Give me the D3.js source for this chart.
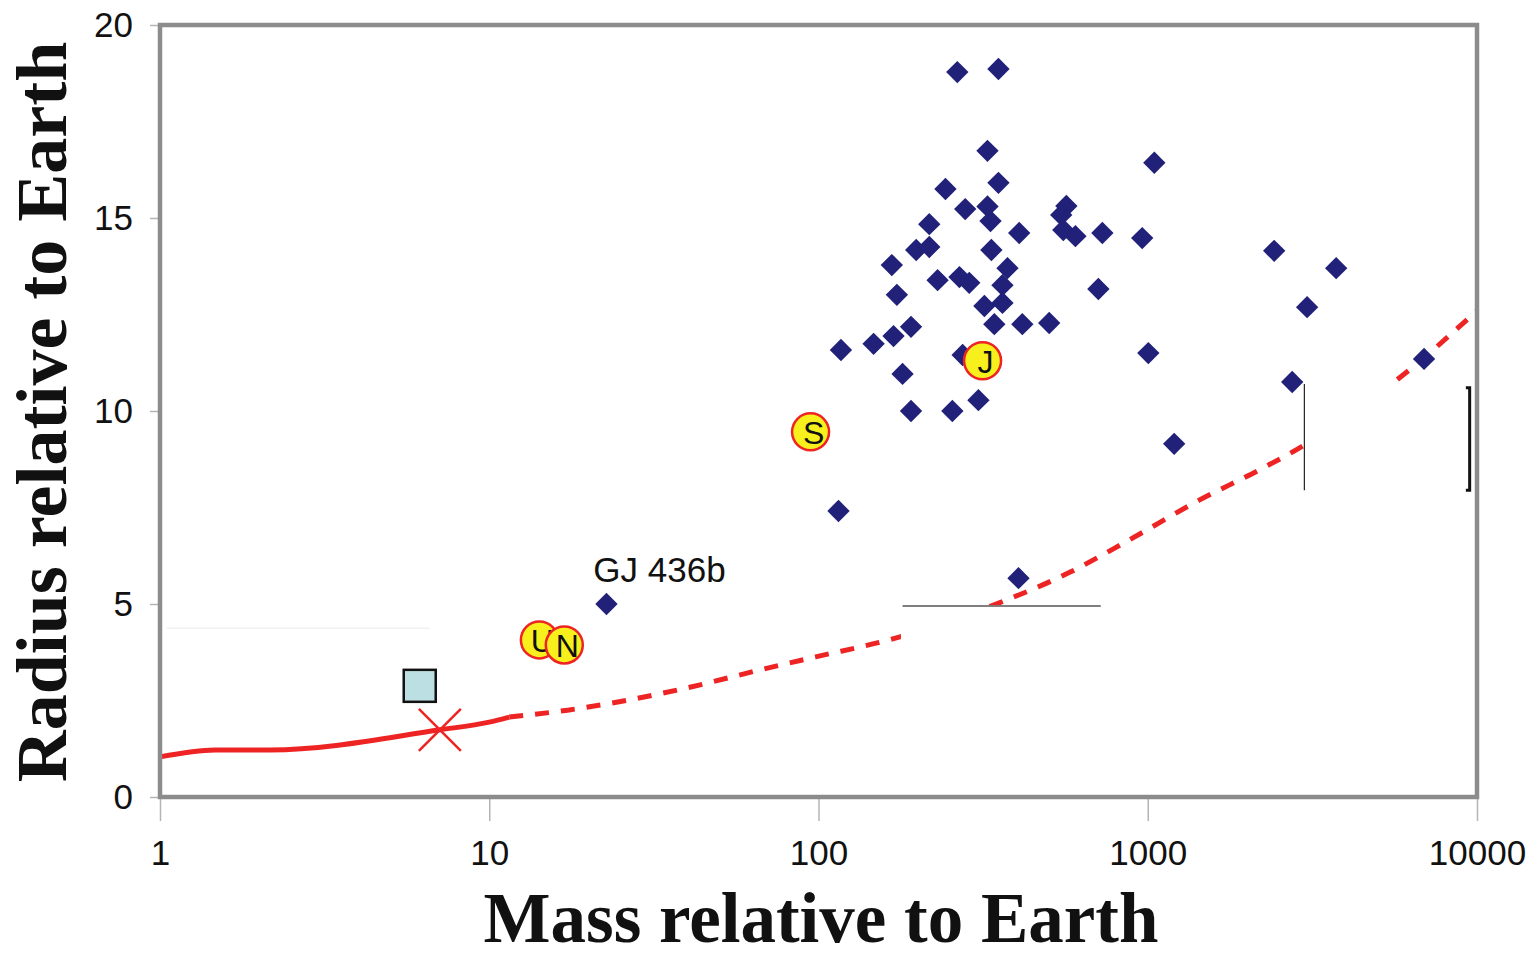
<!DOCTYPE html>
<html>
<head>
<meta charset="utf-8">
<script src="https://cdn.jsdelivr.net/npm/d3@7"></script>
<style>
  body { margin: 0; background: #fff; }
  svg { display: block; }
</style>
</head>
<body>
<div id="chart"></div>
<script>
'use strict';

// exoplanets (mass, radius in Earth units)
let exoMass = [264, 352, 326, 1047, 352, 243, 279, 326, 333, 217, 566, 546, 554, 603, 728, 962, 407,
  2421, 198, 217, 335, 167, 230, 268, 287, 375, 362, 173, 319, 362, 342, 416, 502, 191, 169, 147,
  117, 274, 708, 1004, 3735, 3048, 6905, 2746, 180, 306, 191, 255, 115, 1203, 405, 22.7];
let exoRadius = [18.78, 18.86, 16.74, 16.43, 15.91, 15.75, 15.23, 15.30, 14.92, 14.84, 15.31, 15.08,
  14.69, 14.53, 14.61, 14.48, 14.61, 14.15, 14.17, 14.25, 14.17, 13.78, 13.39, 13.47, 13.32, 13.70,
  13.26, 13.01, 12.72, 12.80, 12.25, 12.25, 12.28, 12.18, 11.94, 11.74, 11.58, 11.45, 13.16, 11.50,
  13.70, 12.69, 11.35, 10.75, 10.96, 10.28, 10.00, 10.00, 7.41, 9.15, 5.67, 5.00];

// solar system planets
let planetNames = ['S', 'U', 'N', 'J'];
let planetMass = [94.6, 14.2, 16.9, 315];
let planetRadius = [9.46, 4.07, 3.94, 11.30];

// rocky model line, solid part then dashed extrapolation
let solidMass = [1, 1.47, 2.16, 7.08, 10, 11.5];
let solidRadius = [1.04, 1.22, 1.22, 1.74, 1.94, 2.07];
let dashMass = [11.5, 17.3, 38.6, 70, 98, 167, 354, 573, 879, 1433, 2179, 2884, 6223, 10000];
let dashRadius = [2.07, 2.25, 2.80, 3.34, 3.63, 4.09, 5.03, 5.80, 6.66, 7.69, 8.47, 9.04, 11.06, 12.6];

// single markers
let squareMass = 6.15, squareRadius = 2.88;
let crossMass = 7.08, crossRadius = 1.74;

let xTicks = [1, 10, 100, 1000, 10000];
let yTicks = [0, 5, 10, 15, 20];

let w = 1539;
let h = 959;
let red = '#ee2424';
let navy = '#21217a';

let x = d3.scaleLog().domain([1, 10000]).range([160, 1477]);
let y = d3.scaleLinear().domain([0, 20]).range([797, 25]);

let svg = d3.select('#chart').append('svg')
  .attr('width', w)
  .attr('height', h);

// axes
let xAxis = svg.append('g')
  .attr('transform', `translate(0,${y(0)})`)
  .call(d3.axisBottom(x).tickValues(xTicks).tickFormat(d3.format('d')).tickSize(24).tickPadding(19));

let yAxis = svg.append('g')
  .attr('transform', `translate(${x(1)},0)`)
  .call(d3.axisLeft(y).tickValues(yTicks).tickSize(10).tickPadding(17));

[xAxis, yAxis].forEach(g => {
  g.select('.domain').remove();
  g.selectAll('line').attr('stroke', '#b4b4b4').attr('stroke-width', 1.5);
  g.selectAll('text')
    .attr('fill', '#111')
    .style('font-family', 'Liberation Sans, Arial, sans-serif')
    .style('font-size', '35px');
});

// faint stray line
svg.append('line')
  .attr('x1', x(1.05)).attr('x2', x(6.6))
  .attr('y1', y(4.37)).attr('y2', y(4.37))
  .attr('stroke', '#f0f0f0').attr('stroke-width', 1.5);

// model curve
let line = d3.line().curve(d3.curveMonotoneX);

svg.append('path')
  .attr('d', line(solidMass.map((m, i) => [x(m), y(solidRadius[i])])))
  .attr('fill', 'none')
  .attr('stroke', red)
  .attr('stroke-width', 5);

svg.append('path')
  .attr('d', line(dashMass.map((m, i) => [x(m), y(dashRadius[i])])))
  .attr('fill', 'none')
  .attr('stroke', red)
  .attr('stroke-width', 5)
  .attr('stroke-dasharray', '14 12');

// pasted-over white patches
svg.append('rect')
  .attr('x', x(178)).attr('y', y(4.97))
  .attr('width', x(725) - x(178)).attr('height', y(3.25) - y(4.97))
  .attr('fill', '#fff');
svg.append('line')
  .attr('x1', x(180)).attr('x2', x(720))
  .attr('y1', y(4.95)).attr('y2', y(4.95))
  .attr('stroke', '#555').attr('stroke-width', 1.5);

svg.append('rect')
  .attr('x', x(2990)).attr('y', y(10.7))
  .attr('width', x(9500) - x(2990)).attr('height', y(7.9) - y(10.7))
  .attr('fill', '#fff');
svg.append('line')
  .attr('x1', x(2990)).attr('x2', x(2990))
  .attr('y1', y(10.7)).attr('y2', y(7.95))
  .attr('stroke', '#222').attr('stroke-width', 1.2);
svg.append('path')
  .attr('d', `M${x(9250)},${y(10.6)}H${x(9500)}V${y(7.95)}H${x(9250)}`)
  .attr('fill', 'none').attr('stroke', '#111').attr('stroke-width', 3);

// frame
svg.append('rect')
  .attr('x', x(1)).attr('y', y(20))
  .attr('width', x(10000) - x(1)).attr('height', y(0) - y(20))
  .attr('fill', 'none')
  .attr('stroke', '#8c8c8c')
  .attr('stroke-width', 4.5);

// light blue square
svg.append('rect')
  .attr('x', x(squareMass) - 16).attr('y', y(squareRadius) - 16)
  .attr('width', 32).attr('height', 32)
  .attr('fill', '#bcdfe3')
  .attr('stroke', '#111')
  .attr('stroke-width', 2.5);

// red cross
svg.append('path')
  .attr('transform', `translate(${x(crossMass)},${y(crossRadius)})`)
  .attr('d', 'M-21,-21L21,21M-21,21L21,-21')
  .attr('stroke', red)
  .attr('stroke-width', 2.5);

// exoplanets
svg.selectAll('path.exo')
  .data(exoMass)
  .enter()
  .append('path')
  .attr('class', 'exo')
  .attr('transform', (d, i) => `translate(${x(d)},${y(exoRadius[i])}) rotate(45)`)
  .attr('d', d3.symbol(d3.symbolSquare, 250))
  .attr('fill', navy);

svg.append('text')
  .attr('x', x(22.7) + 53).attr('y', y(5) - 22)
  .attr('text-anchor', 'middle')
  .style('font-family', 'Liberation Sans, Arial, sans-serif')
  .style('font-size', '35px')
  .attr('fill', '#111')
  .text('GJ 436b');

// solar system planets
let planets = svg.selectAll('g.planet')
  .data(planetNames)
  .enter()
  .append('g')
  .attr('class', 'planet')
  .attr('transform', (d, i) => `translate(${x(planetMass[i])},${y(planetRadius[i])})`);

planets.append('circle')
  .attr('r', 18.5)
  .attr('fill', '#f7f01c')
  .attr('stroke', red)
  .attr('stroke-width', 2.5);

planets.append('text')
  .attr('x', 3).attr('y', 12)
  .attr('text-anchor', 'middle')
  .style('font-family', 'Liberation Sans, Arial, sans-serif')
  .style('font-size', '32px')
  .attr('fill', '#111')
  .text(d => d);

// axis titles
svg.append('text')
  .attr('x', 821).attr('y', 942)
  .attr('text-anchor', 'middle')
  .style('font-family', 'Liberation Serif, Times New Roman, serif')
  .style('font-weight', 'bold')
  .style('font-size', '71px')
  .attr('fill', '#111')
  .text('Mass relative to Earth');

svg.append('text')
  .attr('transform', 'translate(66,412) rotate(-90)')
  .attr('text-anchor', 'middle')
  .style('font-family', 'Liberation Serif, Times New Roman, serif')
  .style('font-weight', 'bold')
  .style('font-size', '72px')
  .attr('fill', '#111')
  .text('Radius relative to Earth');
</script>
</body>
</html>
